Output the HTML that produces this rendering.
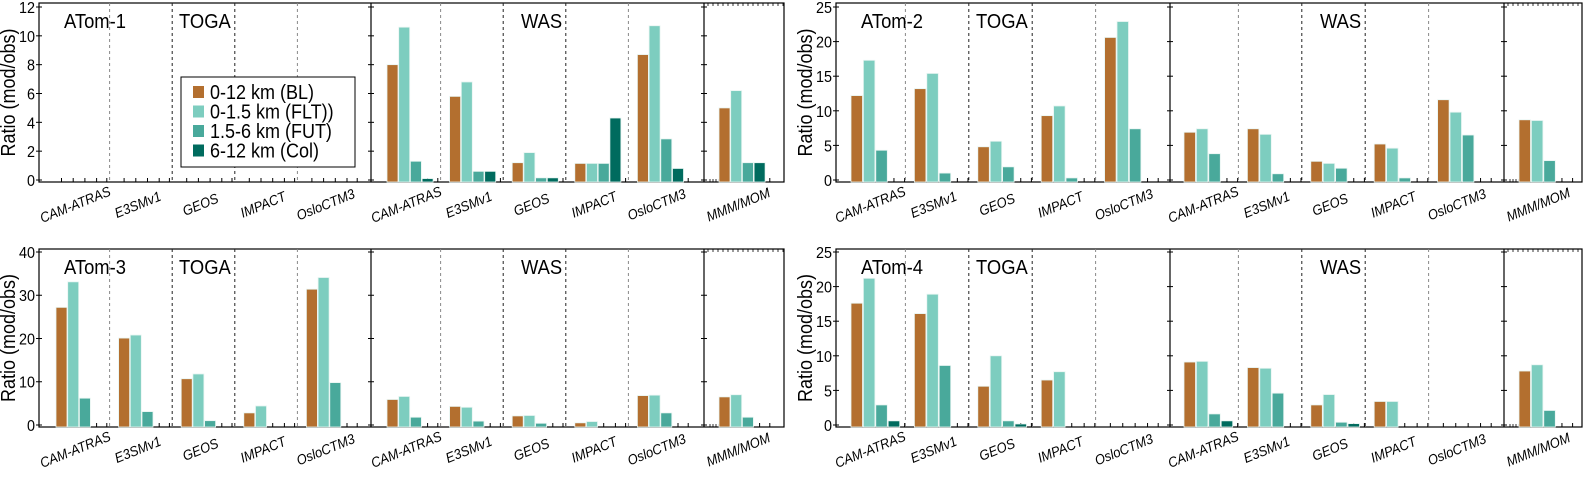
<!DOCTYPE html>
<html><head><meta charset="utf-8"><style>
html,body{margin:0;padding:0;background:#fff;}
svg text{font-family:"Liberation Sans",sans-serif;}
</style></head><body>
<svg id="chart" width="1584" height="475" xmlns="http://www.w3.org/2000/svg"></svg>
<script>
const models = ["CAM-ATRAS","E3SMv1","GEOS","IMPACT","OsloCTM3"];
const seriesNames = ["0-12  km (BL)","0-1.5 km (FLT))","1.5-6 km (FUT)","6-12  km (Col)"];
const colors = ["#b36f2f","#7dcdbf","#49a99b","#006b5e"];
const p1Toga = [[0,0,0,0],[0,0,0,0],[0,0,0,0],[0,0,0,0],[0,0,0,0]];
const p1Was = [[8.0,10.6,1.3,0.1],[5.8,6.8,0.6,0.6],[1.2,1.9,0.15,0.15],[1.15,1.15,1.15,4.3],[8.7,10.7,2.85,0.8]];
const p1Mmm = [5.0,6.2,1.2,1.2];
const p2Toga = [[12.2,17.3,4.3,0],[13.2,15.4,1.0,0],[4.8,5.6,1.9,0],[9.3,10.7,0.3,0],[20.6,22.9,7.4,0]];
const p2Was = [[6.9,7.4,3.8,0],[7.4,6.6,0.9,0],[2.7,2.4,1.7,0],[5.2,4.6,0.3,0],[11.6,9.8,6.5,0]];
const p2Mmm = [8.7,8.6,2.8,0];
const p3Toga = [[27.2,33.1,6.2,0],[20.1,20.8,3.1,0],[10.7,11.8,1.0,0],[2.8,4.4,0,0],[31.4,34.1,9.8,0]];
const p3Was = [[5.9,6.6,1.8,0],[4.3,4.1,0.9,0],[2.1,2.2,0.4,0],[0.5,0.8,0,0],[6.8,6.9,2.8,0]];
const p3Mmm = [6.5,7.0,1.8,0];
const p4Toga = [[17.6,21.2,2.9,0.6],[16.1,18.9,8.6,0],[5.6,10.0,0.6,0.15],[6.5,7.7,0,0],[0,0,0,0]];
const p4Was = [[9.1,9.2,1.6,0.6],[8.3,8.2,4.6,0],[2.9,4.4,0.4,0.2],[3.4,3.4,0,0],[0,0,0,0]];
const p4Mmm = [7.8,8.7,2.1,0];
const p1Ticks = [0,2,4,6,8,10,12];
const p2Ticks = [0,5,10,15,20,25];
const p3Ticks = [0,10,20,30,40];
const p4Ticks = [0,5,10,15,20,25];

const svg = document.getElementById('chart');
const NS = "http://www.w3.org/2000/svg";
function mk(tag, attrs, parent){const e=document.createElementNS(NS,tag);for(const k in attrs)e.setAttribute(k,attrs[k]);(parent||svg).appendChild(e);return e;}

function panel(cfg){
  const g = mk('g',{});
  
  
  const {L,S,M,R,top,axisY,zeroY,maxY,ymax} = cfg;
  const y = v => zeroY - (zeroY-maxY)*v/ymax;
  const box = mk('rect',{x:L,y:top,width:R-L,height:axisY-top,fill:'none',stroke:'#000','stroke-width':1.2},g);
  
  
  [S,M].forEach(xx=>{const l=mk('line',{x1:xx,x2:xx,y1:top,y2:axisY,stroke:'#000','stroke-width':1.2},g);
    
    });
  cfg.ticks.forEach(t=>{
    const yy=y(t);
    [L,S,M].forEach(xx=>{mk('line',{x1:xx-3,x2:xx+3,y1:yy,y2:yy,stroke:'#000','stroke-width':1},g);});
    const tx=mk('text',{x:L-4,y:yy+6,'text-anchor':'end','font-size':16,fill:'#000',transform:`translate(${L-4},0) scale(0.9,1) translate(${-(L-4)},0)`},g);
    tx.textContent=t;
    
    
  });
  const yl=mk('text',{x:0,y:0,'text-anchor':'middle','font-size':20,transform:`translate(${L-24},${(top+axisY)/2}) rotate(-90) scale(0.9,1)`},g);
  yl.textContent='Ratio (mod/obs)';
  
  
  for(let xx=M+4;xx<R;xx+=5){mk('line',{x1:xx,x2:xx,y1:top,y2:top+3,stroke:'#000','stroke-width':0.8},g);}
  for(let xx=M+6;xx<M+16;xx+=3){mk('line',{x1:xx,x2:xx,y1:axisY,y2:axisY-3,stroke:'#000','stroke-width':0.8},g);}
  const sepStyles=['#888','#222','#222','#888'];
  function label(txt, gx){
    const lb=mk('text',{x:0,y:0,'text-anchor':'middle','font-size':14,'font-style':'italic',transform:`translate(${gx+21},${axisY+27}) rotate(-22) scale(0.92,1)`},g);
    lb.textContent=txt;
    
    
  }
  function section(start, data, step, off, sectionName){
    for(let gi=0;gi<5;gi++){
      const gx = start+off+gi*step;
      if(gi>0){
        const sx = gx-9;
        const l=mk('line',{x1:sx,x2:sx,y1:top,y2:axisY,stroke:sepStyles[gi-1],'stroke-width':1,'stroke-dasharray':'3,3'},g);
        
        
      }
      drawGroup(gx, data[gi], sectionName+'-'+models[gi]);
      label(models[gi], gx);
    }
  }
  function drawGroup(gx, vals, nm){
    for(let j=0;j<4;j++){
      const bx = gx + j*cfg.bstep;
      mk('line',{x1:bx+cfg.bw/2,x2:bx+cfg.bw/2,y1:axisY,y2:axisY-4,stroke:'#000','stroke-width':1},g);
      const v=vals[j];
      if(v>0){
        const r=mk('rect',{x:bx,y:y(v),width:cfg.bw,height:axisY-y(v),fill:colors[j],stroke:'#e8f5f2','stroke-width':0.8},g);
        
        
      }
    }
    mk('line',{x1:gx+4*cfg.bstep+4,x2:gx+4*cfg.bstep+4,y1:axisY,y2:axisY-4,stroke:'#000','stroke-width':1},g);
  }
  section(L, cfg.toga, cfg.step, cfg.off, 'toga');
  section(S, cfg.was, cfg.step, cfg.off-1, 'was');
  drawGroup(M+15, cfg.mmm, 'mmm');
  label('MMM/MOM', M+15);
  [[cfg.title,L+25],['TOGA',L+140],['WAS',S+150]].forEach(([t,xx])=>{
    const tt=mk('text',{x:xx,y:top+25,'font-size':20,transform:`translate(${xx},0) scale(0.92,1) translate(${-xx},0)`},g);
    tt.textContent=t;
    
    
  });
}

panel({name:'panel-atom-1',title:'ATom-1',L:39,S:371,M:704,R:784,top:3,axisY:182,zeroY:180,maxY:7,ymax:12,ticks:p1Ticks,toga:p1Toga,was:p1Was,mmm:p1Mmm,step:62.6,off:17,bstep:11.7,bw:11});
panel({name:'panel-atom-2',title:'ATom-2',L:836,S:1170,M:1504,R:1582,top:3,axisY:182,zeroY:180,maxY:7,ymax:25,ticks:p2Ticks,toga:p2Toga,was:p2Was,mmm:p2Mmm,step:63.4,off:15,bstep:12.4,bw:11.5});
panel({name:'panel-atom-3',title:'ATom-3',L:39,S:371,M:704,R:784,top:249,axisY:427,zeroY:425,maxY:252,ymax:40,ticks:p3Ticks,toga:p3Toga,was:p3Was,mmm:p3Mmm,step:62.6,off:17,bstep:11.7,bw:11});
panel({name:'panel-atom-4',title:'ATom-4',L:836,S:1170,M:1504,R:1582,top:249,axisY:427,zeroY:425,maxY:252,ymax:25,ticks:p4Ticks,toga:p4Toga,was:p4Was,mmm:p4Mmm,step:63.4,off:15,bstep:12.4,bw:11.5});

const lg = mk('g',{});


mk('rect',{x:181,y:77,width:174,height:90,fill:'#fff',stroke:'#000','stroke-width':1},lg);
seriesNames.forEach((s,i)=>{
  const cy = 92 + i*19.5;
  const sq=mk('rect',{x:193,y:cy-6,width:11,height:12,fill:colors[i]},lg);
  
  
  const t=mk('text',{x:210,y:cy+7,'font-size':20,transform:'translate(210,0) scale(0.9,1) translate(-210,0)'},lg);
  t.textContent=s;
  
  
});
</script>
</body></html>
